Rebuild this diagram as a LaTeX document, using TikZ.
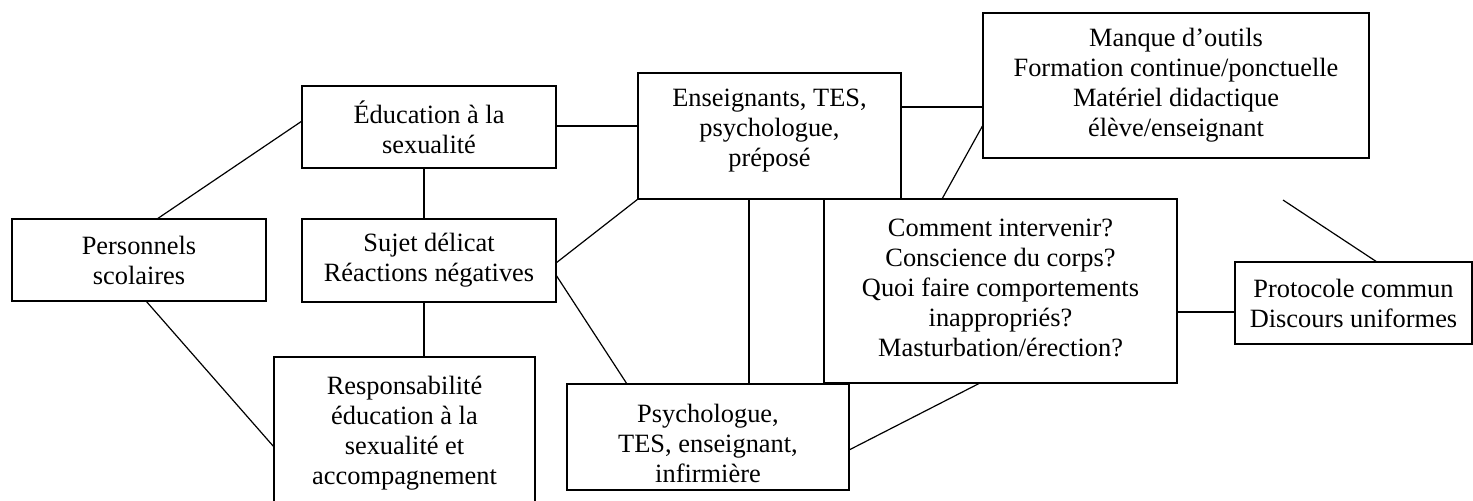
\documentclass[tikz,border=0pt]{standalone}
\usepackage{fontspec}
\setmainfont{Liberation Serif}
\usetikzlibrary{calc}
\begin{document}
\begin{tikzpicture}[x=0.5pt,y=-0.5pt,
  box/.style={draw, line width=1pt, outer sep=0pt, inner sep=0pt},
  txt/.style={align=center, inner sep=0pt, font=\fontsize{13.2}{15}\selectfont},
  link/.style={line width=0.6pt}]
\useasboundingbox (0,0) rectangle (1473,500);
\clip (0,0) rectangle (1473,500);

% boxes (centres and sizes in 1/2 pt units)
\node[box, minimum width=127pt, minimum height=41pt,
  label={[txt,name=perst]center:{Personnels\\scolaires}}] (pers) at (139,260) {};
\node[box, minimum width=127pt, minimum height=41pt,
  label={[txt,name=educt]center:{Éducation à la\\sexualité}}] (educ) at (429,127) {};
\node[box, minimum width=127pt, minimum height=41.5pt,
  label={[txt,name=sujett]center:{Sujet délicat\\Réactions négatives}}] (sujet) at (429,260.5) {};
\node[box, minimum width=130.5pt, minimum height=79pt,
  label={[txt,name=respt,yshift=1.25pt]center:{Responsabilité\\éducation à la\\sexualité et\\accompagnement}}] (resp) at (404.5,436) {};
\node[box, minimum width=131.5pt, minimum height=63pt,
  label={[txt,name=enst,yshift=2.5pt]center:{Enseignants, TES,\\psychologue,\\préposé}}] (ens) at (769.5,136) {};
\node[box, minimum width=193pt, minimum height=72.5pt,
  label={[txt,name=manquet]center:{Manque d’outils\\Formation continue/ponctuelle\\Matériel didactique\\élève/enseignant}}] (manque) at (1176,85.5) {};
\node[box, minimum width=176.5pt, minimum height=92pt,
  label={[txt,name=commentt,yshift=1.5pt]center:{Comment intervenir?\\Conscience du corps?\\Quoi faire comportements\\inappropriés?\\Masturbation/érection?}}] (comment) at (1000.5,291) {};
\node[box, minimum width=141pt, minimum height=53pt,
  label={[txt,name=psycht,yshift=-3pt]center:{Psychologue,\\TES, enseignant,\\infirmière}}] (psych) at (708,437) {};
\node[box, minimum width=118.5pt, minimum height=41pt,
  label={[txt,name=protot]center:{Protocole commun\\Discours uniformes}}] (proto) at (1353.5,303) {};

% connectors
\draw[link] ($(pers.north west)+(145,0)$) -- ($(educ.north west)+(0,35)$);
\draw[link] ($(pers.south west)+(134,0)$) -- ($(resp.north west)+(0,90)$);
\draw[link] ($(educ.south west)+(122,0)$) -- ($(sujet.north west)+(122,0)$);
\draw[link] ($(sujet.south west)+(122,0)$) -- ($(resp.north west)+(150,0)$);
\draw[link] ($(educ.north east)+(0,40)$) -- ($(ens.north west)+(0,53)$);
\draw[link] ($(sujet.north east)+(0,44)$) -- (ens.south west);
\draw[link] ($(sujet.north east)+(0,56)$) -- ($(psych.north west)+(60,0)$);
\draw[link] ($(ens.south west)+(111,0)$) -- ($(psych.north west)+(182,0)$);
\draw[link] ($(ens.north east)+(0,34)$) -- ($(manque.north west)+(0,94)$);
\draw[link] ($(comment.north west)+(118,0)$) -- ($(manque.north west)+(0,112)$);
\draw[link] ($(comment.south west)+(156,0)$) -- ($(psych.north east)+(0,66)$);
\draw[link] ($(comment.north east)+(0,113)$) -- ($(proto.north west)+(0,50)$);
\coordinate (loose) at (1283,200);
\draw[link] (loose) -- ($(proto.north west)+(142,0)$);
\end{tikzpicture}
\end{document}
